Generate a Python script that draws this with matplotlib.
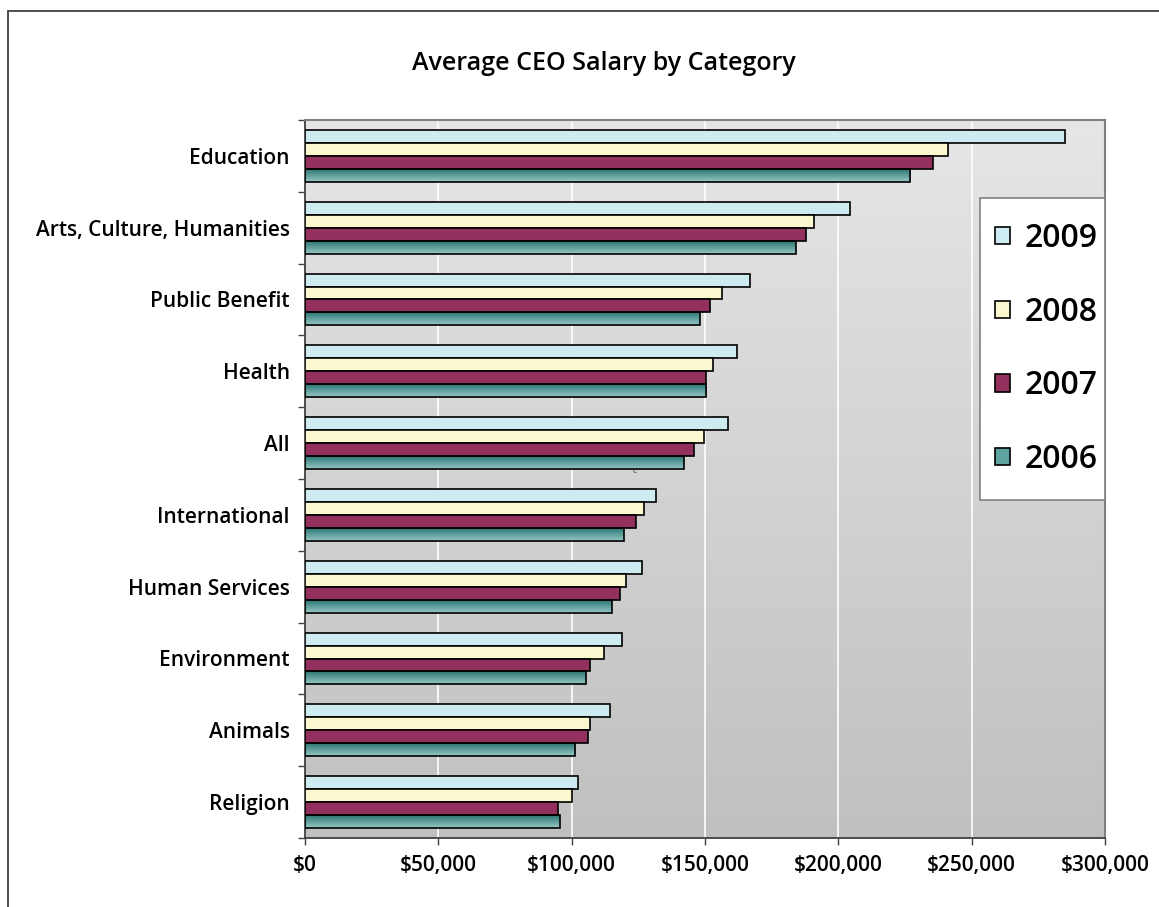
import numpy as np
import matplotlib
matplotlib.use("Agg")
import matplotlib.pyplot as plt
from matplotlib.patches import Rectangle, Patch
from matplotlib.ticker import FuncFormatter, MultipleLocator

plt.rcParams['font.family'] = ['Open Sans', 'DejaVu Sans']

categories = ['Education', 'Arts, Culture, Humanities', 'Public Benefit', 'Health', 'All',
              'International', 'Human Services', 'Environment', 'Animals', 'Religion']
years = ['2009', '2008', '2007', '2006']

sal_2009 = [285000, 204500, 167000, 162000, 158700, 131700, 126300, 118800, 114400, 102300]
sal_2008 = [241000, 191000, 156400, 153000, 149700, 127000, 120300, 112000, 106800, 100000]
sal_2007 = [235500, 188000, 152000, 150500, 146000, 124000, 118000, 107000, 106000, 94700]
sal_2006 = [227000, 184000, 148000, 150500, 142000, 119500, 115000, 105300, 101400, 95500]
series = [sal_2009, sal_2008, sal_2007, sal_2006]

colors = ['#cdebf1', '#fbf8cf', '#93305e', '#5fa3a0']
teal_top, teal_bot = np.array([0x95, 0xc8, 0xc5]) / 255, np.array([0x2c, 0x76, 0x73]) / 255

fig = plt.figure(figsize=(11.59, 9.07), dpi=100)
fig.patch.set_facecolor('white')

# outer chart border (only top/left fall inside the canvas)
fig.add_artist(Rectangle((8 / 1159, -0.2), 2.0, 1.2 - 11 / 907, transform=fig.transFigure,
                         fill=False, edgecolor='#404040', lw=1.3, clip_on=False))

ax = fig.add_axes([305 / 1159, 1 - 838 / 907, 800 / 1159, 718 / 907])

# plot area gradient
bg = np.linspace(0, 1, 256).reshape(-1, 1)
bg_cmap = matplotlib.colors.LinearSegmentedColormap.from_list('bg', ['#c0c0c0', '#e6e6e6'])
ax.imshow(bg, extent=[0, 1, 0, 1], transform=ax.transAxes, aspect='auto',
          cmap=bg_cmap, origin='lower', zorder=0)

for v in range(50000, 300000, 50000):
    ax.axvline(v, color='white', lw=1.2, zorder=1)

y = np.arange(len(categories))
h = 0.18
offsets = [-0.27, -0.09, 0.09, 0.27]

handles = []
for vals, off, col, yr in zip(series, offsets, colors, years):
    if yr == '2006':
        bars = ax.barh(y + off, vals, height=h, color='none', edgecolor='black', lw=1.2, zorder=3)
        grad = np.linspace(0, 1, 64).reshape(-1, 1, 1)
        rgb = teal_top * (1 - grad) + teal_bot * grad
        for b in bars:
            x0, y0 = b.get_x(), b.get_y()
            im = ax.imshow(rgb, extent=[x0, x0 + b.get_width(), y0 + b.get_height(), y0],
                           aspect='auto', origin='lower', zorder=2, interpolation='bilinear')
            im.set_clip_path(b)
    else:
        ax.barh(y + off, vals, height=h, color=col, edgecolor='black', lw=1.2, zorder=3)
    handles.append(Patch(facecolor=col, edgecolor='black', lw=1.2, label=yr))

ax.set_xlim(0, 300000)
ax.set_ylim(len(categories) - 0.5, -0.5)
ax.set_aspect('auto')

ax.xaxis.set_major_locator(MultipleLocator(50000))
ax.xaxis.set_major_formatter(FuncFormatter(lambda v, p: '${:,.0f}'.format(v)))
ax.tick_params(axis='x', direction='out', length=5, width=1, color='#404040',
               labelsize=15, pad=7)
for t in ax.get_xticklabels():
    t.set_fontweight('semibold')

ax.set_yticks(y)
ax.set_yticklabels(categories, fontsize=15, fontweight='semibold')
ax.set_yticks(np.arange(-0.5, len(categories)), minor=True)
ax.tick_params(axis='y', which='major', length=0, pad=11)
ax.tick_params(axis='y', which='minor', direction='out', length=5, width=1, color='#404040')

for s in ['top', 'right']:
    ax.spines[s].set_color('#808080')
    ax.spines[s].set_linewidth(1.5)
for s in ['left', 'bottom']:
    ax.spines[s].set_color('#404040')
    ax.spines[s].set_linewidth(1.3)

ax.text(123400, 4.40, 'c', fontsize=6, color='#333333', ha='center', va='center', zorder=4)

# legend box drawn separately so the entries can sit close to its left edge
ax.add_patch(Rectangle((0.844, 0.471), 0.156, 0.42, transform=ax.transAxes, facecolor='white',
                       edgecolor='#808080', lw=1.2, zorder=5, clip_on=False))
leg = ax.legend(handles=handles, loc='center left', bbox_to_anchor=(0.863, 0.681),
                prop={'size': 23, 'weight': 'semibold'}, frameon=False,
                handlelength=0.45, handleheight=0.45, handletextpad=0.45,
                labelspacing=1.27, borderpad=0, borderaxespad=0)
leg.set_zorder(6)

fig.text(604 / 1159, 1 - 63 / 907, 'Average CEO Salary by Category', ha='center', va='center',
         fontsize=18, fontweight='semibold')

fig.savefig('out.png', dpi=100, facecolor='white')
